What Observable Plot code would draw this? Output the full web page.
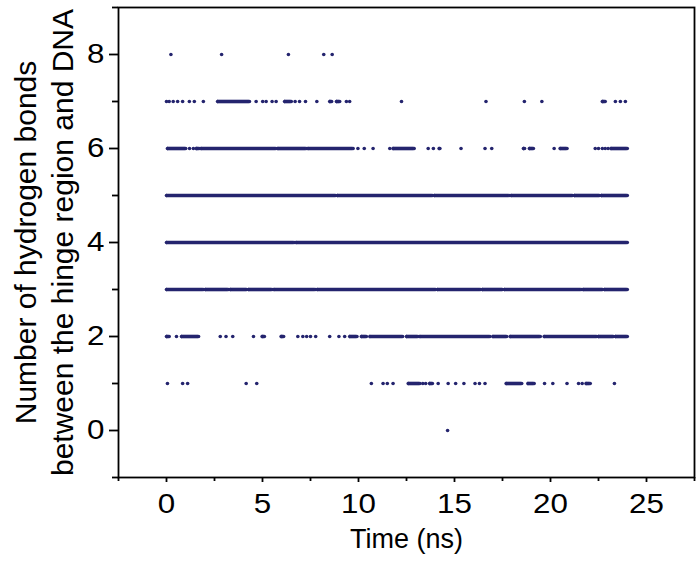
<!DOCTYPE html>
<html>
<head>
<meta charset="utf-8">
<script src="https://cdn.jsdelivr.net/npm/d3@7"></script>
<script src="https://cdn.jsdelivr.net/npm/@observablehq/plot@0.6"></script>
<style>
  body { margin: 0; background: #fff; }
  #chart svg { display: block; }
</style>
</head>
<body>
<div id="chart"></div>
<script>
// Hydrogen-bond counts: runs of time (ns) [start, end] spent at each count
const level8 = [[0.23,0.23],[2.87,2.87],[6.35,6.35],[8.19,8.19],[8.63,8.63]];
const level7 = [[0,0],[0.14,0.14],[0.35,0.35],[0.58,0.58],[0.84,0.84],[1.19,1.19],[1.45,1.45],[1.92,1.92],[2.66,4.32],[4.67,4.67],[5.01,5.01],[5.19,5.19],[5.5,5.5],[5.71,5.71],[6.15,6.5],[6.7,6.7],[6.93,6.93],[7.24,7.24],[7.83,7.83],[8.5,8.6],[8.85,9.02],[9.37,9.37],[9.54,9.54],[12.24,12.24],[16.64,16.64],[18.64,18.64],[19.55,19.55],[22.7,22.85],[23.38,23.38],[23.64,23.64],[23.9,23.9]];
const level6 = [[0.05,1.0],[1.2,1.2],[1.4,1.4],[1.55,1.7],[1.8,5.7],[5.8,7.28],[7.37,9.72],[9.97,9.97],[10.3,10.3],[10.76,10.76],[11.63,11.63],[11.8,12.9],[13.63,13.63],[13.9,13.9],[14.2,14.24],[15.34,15.34],[16.59,16.59],[16.94,16.94],[18.59,18.65],[18.9,19.11],[20.19,20.19],[20.5,20.86],[22.33,22.33],[22.5,22.5],[22.7,22.7],[22.85,22.85],[23.0,23.0],[23.15,24.0]];
const level5 = [[0,8.8],[8.9,13.85],[13.95,17.85],[17.95,21.15],[21.25,22.55],[22.65,24]];
const level4 = [[0,6.65],[6.75,24]];
const level3 = [[0,1.92],[2.02,3.22],[3.32,4.18],[4.28,5.5],[5.6,7.75],[7.85,14.02],[14.12,16.35],[16.45,17.5],[17.6,21.6],[21.7,22.72],[22.82,24]];
const level2 = [[0,0.14],[0.52,0.52],[0.78,1.67],[2.8,2.8],[3.1,3.1],[3.45,3.45],[4.53,4.53],[4.98,5.1],[5.97,6.1],[6.84,6.84],[7.1,7.1],[7.3,7.3],[7.5,7.5],[7.77,7.77],[8.5,8.5],[8.98,8.98],[9.28,9.28],[9.54,9.92],[10.15,10.41],[10.59,12.3],[12.5,13.1],[13.2,16.85],[17.0,17.72],[17.9,19.47],[19.67,22.42],[22.5,23.28],[23.38,24.0]];
const level1 = [[0.05,0.05],[0.84,0.84],[1.1,1.1],[4.15,4.15],[4.7,4.7],[10.67,10.67],[11.28,11.28],[11.5,11.5],[11.8,11.8],[12.59,13.2],[13.35,13.35],[13.5,13.5],[13.7,13.85],[14.15,14.15],[14.67,14.67],[15.06,15.06],[15.49,15.49],[16.07,16.07],[16.3,16.3],[16.59,16.59],[17.69,18.5],[18.82,19.15],[19.69,19.69],[20.12,20.12],[20.86,20.86],[21.46,21.46],[21.65,21.65],[21.85,22.07],[23.33,23.33]];
const level0 = [[14.64,14.64]];

const xMajorTicks = [0, 5, 10, 15, 20, 25];
const xMinorTicks = [-2.5, 2.5, 7.5, 12.5, 17.5, 22.5, 27.5];
const yMajorTicks = [0, 2, 4, 6, 8];
const yMinorTicks = [-1, 1, 3, 5, 7, 9];
const xTitle = "Time (ns)";
const yTitleLine1 = "Number of hydrogen bonds";
const yTitleLine2 = "between the hinge region and DNA";

const levels = [level0, level1, level2, level3, level4, level5, level6, level7, level8];
const runs = levels.flatMap((arr, n) => arr.map(([a, b]) => ({count: n, t0: a, t1: b})));
const ends = runs.flatMap(r => r.t0 === r.t1 ? [{count: r.count, t: r.t0}] : [{count: r.count, t: r.t0}, {count: r.count, t: r.t1}]);

const color = "#24246e";
const font = "Liberation Sans, Arial, Helvetica, sans-serif";

const chart = Plot.plot({
  width: 700,
  height: 561,
  marginLeft: 118,
  marginRight: 6,
  marginTop: 7,
  marginBottom: 84,
  style: {fontFamily: font, background: "#fff", color: "#000"},
  x: {domain: [-2.5, 27.5]},
  y: {domain: [-1, 9]},
  marks: [
    Plot.ruleY(runs.filter(r => r.t1 > r.t0), {y: "count", x1: "t0", x2: "t1", stroke: color, strokeWidth: 3.6}),
    Plot.dot(ends, {x: "t", y: "count", r: 1.8, fill: color, stroke: "none"}),
    Plot.axisX({ticks: xMinorTicks, tickSize: 4, text: null, label: null, strokeWidth: 1.8}),
    Plot.axisX({ticks: xMajorTicks, tickSize: 5, tickPadding: 11, fontSize: 28, label: null, strokeWidth: 1.8, tickFormat: d => String(d)}),
    Plot.axisY({ticks: yMinorTicks, tickSize: 6, text: null, label: null, strokeWidth: 1.8}),
    Plot.axisY({ticks: yMajorTicks, tickSize: 9, tickPadding: 5, fontSize: 28, label: null, strokeWidth: 1.8, tickFormat: d => String(d)}),
    Plot.frame({stroke: "#000", strokeWidth: 1.8}),
    Plot.text([xTitle], {frameAnchor: "bottom", dy: 62, lineAnchor: "middle", textAnchor: "middle", text: d => d, fontSize: 27, fill: "#000", ariaLabel: "x-title"}),
    Plot.text([yTitleLine1], {frameAnchor: "left", dx: -92, rotate: -90, lineAnchor: "middle", textAnchor: "middle", text: d => d, fontSize: 30, fill: "#000"}),
    Plot.text([yTitleLine2], {frameAnchor: "left", dx: -55, rotate: -90, lineAnchor: "middle", textAnchor: "middle", text: d => d, fontSize: 30, fill: "#000"})
  ]
});

// widen tick labels slightly, as in the (horizontally stretched) reference figure
d3.select(chart).selectAll("g[aria-label='x-axis tick label'] text, g[aria-label='y-axis tick label'] text")
  .attr("transform", function() { return (this.getAttribute("transform") || "") + " scale(1.12,1)"; });

document.getElementById("chart").appendChild(chart);
</script>
</body>
</html>
